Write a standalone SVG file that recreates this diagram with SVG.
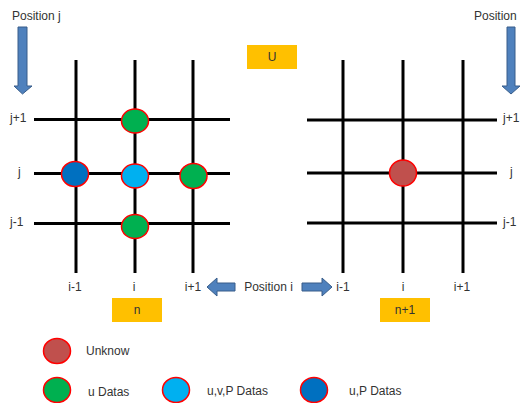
<svg xmlns="http://www.w3.org/2000/svg" width="521" height="403" viewBox="0 0 521 403">
<style>
.g line{stroke:#000;stroke-width:3}
.t{font-family:"Liberation Sans",Arial,sans-serif;font-size:12px;fill:#333}
.c{stroke:#FF0000;stroke-width:1.5}
.arr{fill:#4F81BD;stroke:#385D8A;stroke-width:1}
.box{fill:#FFC000}
</style>
<rect width="521" height="403" fill="#fff"/>
<g id="grid-n" class="g">
<line x1="76" y1="60" x2="76" y2="273"/>
<line x1="135" y1="60" x2="135" y2="273"/>
<line x1="193" y1="60" x2="193" y2="273"/>
<line x1="34" y1="119.5" x2="230" y2="119.5"/>
<line x1="34" y1="173.5" x2="230" y2="173.5"/>
<line x1="34" y1="223.5" x2="230" y2="223.5"/>
</g>
<g id="grid-n1" class="g">
<line x1="343" y1="60" x2="343" y2="273"/>
<line x1="403" y1="60" x2="403" y2="273"/>
<line x1="463" y1="60" x2="463" y2="273"/>
<line x1="307" y1="120" x2="497" y2="120"/>
<line x1="307" y1="173" x2="497" y2="173"/>
<line x1="307" y1="223" x2="497" y2="223"/>
</g>
<g id="connectors">
<path class="arr" d="M18,27 H27 V86 H32 L22.5,94 L14,86 H18 Z"/>
<path class="arr" d="M507,27 H515 V86 H520 L511,94 L502,86 H507 Z"/>
<path class="arr" d="M235,283 V291 H217 V296 L207,287 L217,278 V283 Z"/>
<path class="arr" d="M302,283 V291 H322 V296 L332,287 L322,278 V283 Z"/>
</g>
<g id="node-top" ><ellipse class="c" cx="135" cy="121" rx="13.5" ry="12" fill="#00B050"/></g>
<g id="node-left"><ellipse class="c" cx="75" cy="174" rx="13.5" ry="12.5" fill="#0070C0"/></g>
<g id="node-center"><ellipse class="c" cx="135" cy="176" rx="13.5" ry="12" fill="#00B0F0"/></g>
<g id="node-right"><ellipse class="c" cx="193.5" cy="176" rx="13.5" ry="12.5" fill="#00B050"/></g>
<g id="node-bottom"><ellipse class="c" cx="135" cy="226.5" rx="13.5" ry="12" fill="#00B050"/></g>
<g id="node-unknown"><ellipse class="c" cx="403" cy="173" rx="13.5" ry="13" fill="#C0504D"/></g>
<g id="labels">
<text class="t" x="12" y="20">Position j</text>
<text class="t" x="474" y="20">Position</text>
<text class="t" x="10" y="122">j+1</text>
<text class="t" x="18" y="176">j</text>
<text class="t" x="10" y="226">j-1</text>
<text class="t" x="503" y="122">j+1</text>
<text class="t" x="510" y="176">j</text>
<text class="t" x="503" y="226">j-1</text>
<text class="t" x="75" y="291" text-anchor="middle">i-1</text>
<text class="t" x="134" y="291" text-anchor="middle">i</text>
<text class="t" x="193" y="291" text-anchor="middle">i+1</text>
<text class="t" x="343" y="291" text-anchor="middle">i-1</text>
<text class="t" x="403" y="291" text-anchor="middle">i</text>
<text class="t" x="462" y="291" text-anchor="middle">i+1</text>
<text class="t" x="268.5" y="291" text-anchor="middle">Position i</text>
</g>
<g id="box-U"><rect class="box" x="247" y="45" width="50" height="24"/><text class="t" x="272" y="61" text-anchor="middle">U</text></g>
<g id="box-n"><rect class="box" x="112" y="298" width="50" height="24"/><text class="t" x="137" y="314" text-anchor="middle">n</text></g>
<g id="box-n1"><rect class="box" x="380" y="298" width="50" height="24"/><text class="t" x="405" y="314" text-anchor="middle">n+1</text></g>
<g id="legend">
<ellipse class="c" cx="57" cy="351" rx="13.5" ry="12.5" fill="#C0504D"/>
<text class="t" x="86" y="355">Unknow</text>
<ellipse class="c" cx="57" cy="390" rx="13.5" ry="12.5" fill="#00B050"/>
<text class="t" x="88" y="396">u Datas</text>
<ellipse class="c" cx="176" cy="390" rx="13.5" ry="12.5" fill="#00B0F0"/>
<text class="t" x="207" y="395">u,v,P Datas</text>
<ellipse class="c" cx="314" cy="390" rx="13.5" ry="12.5" fill="#0070C0"/>
<text class="t" x="349" y="395">u,P Datas</text>
</g>
</svg>
